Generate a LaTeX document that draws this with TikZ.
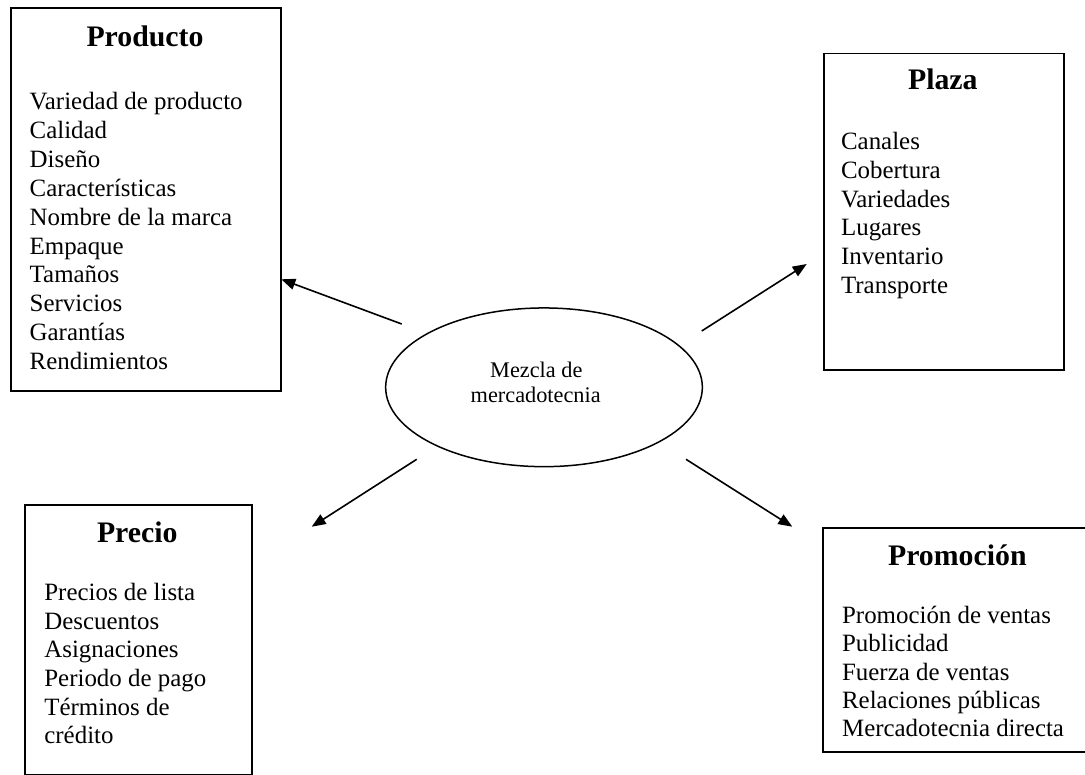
\documentclass[tikz,border=0pt]{standalone}
\usepackage{fontspec}
\setmainfont{Liberation Serif}
\usetikzlibrary{shapes.geometric,arrows.meta}
\begin{document}
\begin{tikzpicture}[x=0.5pt,y=-0.5pt,
  box/.style={draw, line width=0.9pt, rectangle, inner sep=0pt, anchor=north west},
  ttl/.style={font=\fontsize{14.9}{17}\selectfont\bfseries, anchor=base, inner sep=0pt},
  item/.style={font=\fontsize{12.45}{14.35}\selectfont, anchor=base west, inner sep=0pt},
  mixtxt/.style={font=\fontsize{11.15}{12.85}\selectfont, anchor=base, inner sep=0pt},
  mixshape/.style={draw, ellipse, line width=0.75pt, inner sep=0pt},
  conn/.style={line width=0.8pt, -{Triangle[length=7pt,width=5.5pt]}}]
\useasboundingbox (0,0) rectangle (1085,775);
\fill[white] (0,0) rectangle (1085,775);

% boxes
\node[box, minimum width=135pt, minimum height=191.5pt] (producto) at (10,7) {};
\node[box, minimum width=120.15pt, minimum height=158.15pt] (plaza) at (822.7,52.7) {};
\node[box, minimum width=113.35pt, minimum height=134.6pt] (precio) at (24,504.3) {};
\node[box, minimum width=133pt, minimum height=111.85pt] (promocion) at (822,527.3) {};

% titles
\node[ttl] (tprod) at (145,46.5) {Producto};
\node[ttl] (tplaza) at (942.8,90) {Plaza};
\node[ttl] (tprecio) at (137.3,542.7) {Precio};
\node[ttl] (tpromo) at (957.3,565) {Promoción};

% items
\foreach \t [count=\i from 0] in {Variedad de producto, Calidad, Diseño, Características, Nombre de la marca, Empaque, Tamaños, Servicios, Garantías, Rendimientos}
  \node[item] (prod\i) at (29.3,{110+28.8*\i}) {\t};
\foreach \t [count=\i from 0] in {Canales, Cobertura, Variedades, Lugares, Inventario, Transporte}
  \node[item] (plz\i) at (840.7,{150+28.6*\i}) {\t};
\foreach \t [count=\i from 0] in {Precios de lista, Descuentos, Asignaciones, Periodo de pago, Términos de, crédito}
  \node[item] (pre\i) at (44,{600.7+28.6*\i}) {\t};
\foreach \t [count=\i from 0] in {Promoción de ventas, Publicidad, Fuerza de ventas, Relaciones públicas, Mercadotecnia directa}
  \node[item] (pro\i) at (841.7,{623.3+28.4*\i}) {\t};

% centre ellipse
\node[mixshape, minimum width=158.35pt, minimum height=79.35pt] (mix) at (544,387.3) {};
\node[mixtxt] (mix1) at (536.3,377) {Mezcla de};
\node[mixtxt] (mix2) at (535.7,402.7) {mercadotecnia};

% arrows
\coordinate (a1s) at (401.7,324);   \coordinate (a1e) at (281.3,279.3);
\coordinate (a2s) at (701.7,331);   \coordinate (a2e) at (806.7,264);
\coordinate (a3s) at (416.7,459.3); \coordinate (a3e) at (311.7,526.7);
\coordinate (a4s) at (686,459.3);   \coordinate (a4e) at (792.3,526.7);
\draw[conn] (a1s) -- (a1e);
\draw[conn] (a2s) -- (a2e);
\draw[conn] (a3s) -- (a3e);
\draw[conn] (a4s) -- (a4e);
\end{tikzpicture}
\end{document}
